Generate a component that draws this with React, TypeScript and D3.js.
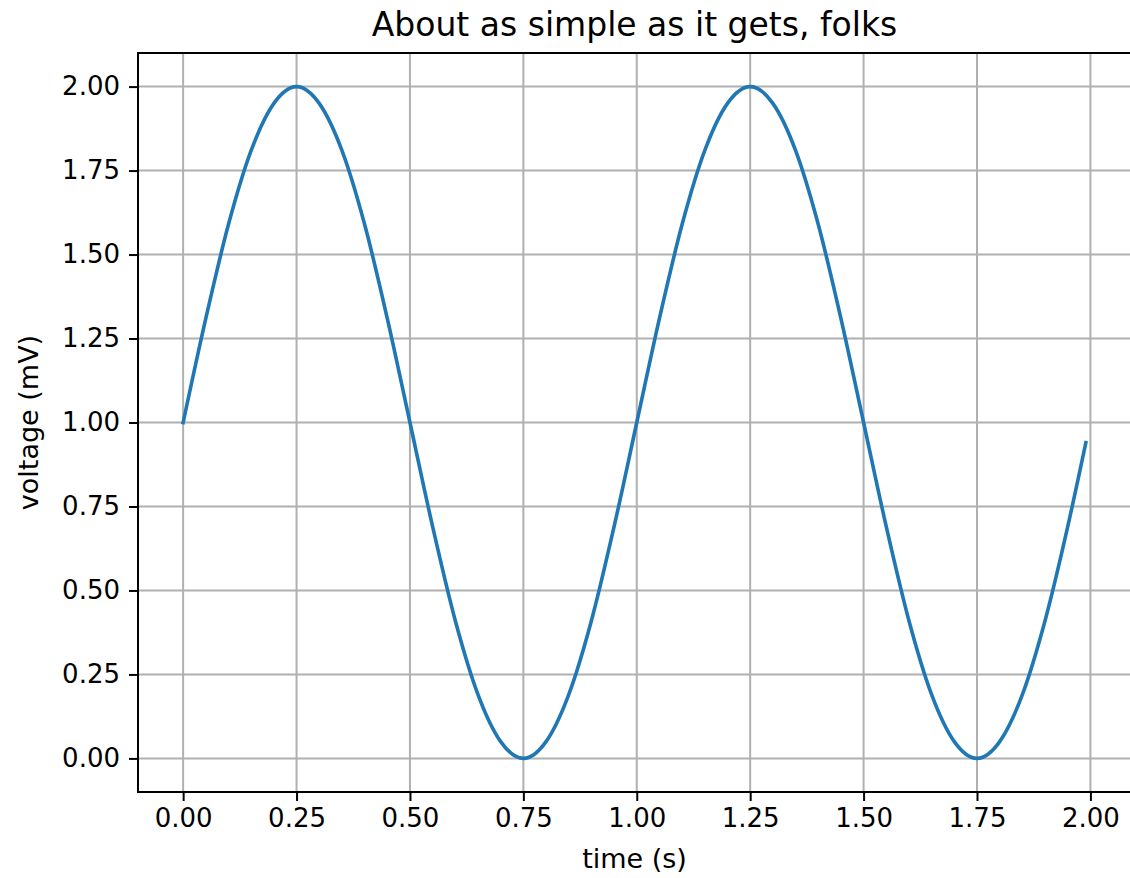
import { useEffect, useRef } from 'react';
import * as d3 from 'd3';

// values
const TIME = [0, 0.05, 0.1, 0.15, 0.2, 0.25, 0.3, 0.35, 0.4, 0.45, 0.5, 0.55, 0.6, 0.65, 0.7, 0.75, 0.8, 0.85, 0.9, 0.95,
  1.0, 1.05, 1.1, 1.15, 1.2, 1.25, 1.3, 1.35, 1.4, 1.45, 1.5, 1.55, 1.6, 1.65, 1.7, 1.75, 1.8, 1.85, 1.9, 1.95, 1.99];
const VOLTAGE = [1.0, 1.31, 1.59, 1.81, 1.95, 2.0, 1.95, 1.81, 1.59, 1.31, 1.0, 0.69, 0.41, 0.19, 0.05, 0.0, 0.05, 0.19, 0.41, 0.69,
  1.0, 1.31, 1.59, 1.81, 1.95, 2.0, 1.95, 1.81, 1.59, 1.31, 1.0, 0.69, 0.41, 0.19, 0.05, 0.0, 0.05, 0.19, 0.41, 0.69, 0.94];
const X_TICKS = [0, 0.25, 0.5, 0.75, 1.0, 1.25, 1.5, 1.75, 2.0];
const Y_TICKS = [0, 0.25, 0.5, 0.75, 1.0, 1.25, 1.5, 1.75, 2.0];

const W = 1130;
const H = 878;
const PLOT = { left: 138, right: 1131, top: 53, bottom: 792 };
const FONT = '"DejaVu Sans", sans-serif';

export default function App() {
  const svgRef = useRef<SVGSVGElement | null>(null);

  useEffect(() => {
    document.body.style.margin = '0';
    if (!svgRef.current) return;
    const svg = d3.select(svgRef.current);
    svg.selectAll('*').remove();

    const x = d3.scaleLinear().domain([-0.0995, 2.0895]).range([PLOT.left, PLOT.right]);
    const y = d3.scaleLinear().domain([-0.1, 2.1]).range([PLOT.bottom, PLOT.top]);

    svg.append('rect').attr('width', W).attr('height', H).attr('fill', '#fff');

    // grid
    const grid = svg.append('g').attr('stroke', '#b0b0b0').attr('stroke-width', 2);
    X_TICKS.forEach(t => {
      grid.append('line').attr('x1', x(t)).attr('x2', x(t)).attr('y1', PLOT.top).attr('y2', PLOT.bottom);
    });
    Y_TICKS.forEach(t => {
      grid.append('line').attr('x1', PLOT.left).attr('x2', PLOT.right).attr('y1', y(t)).attr('y2', y(t));
    });

    // the curve
    const pts = TIME.map((t, i) => [t, VOLTAGE[i]] as [number, number]);
    const line = d3.line<[number, number]>()
      .x(d => x(d[0])).y(d => y(d[1]))
      .curve(d3.curveMonotoneX);
    svg.append('path').attr('d', line(pts)).attr('fill', 'none')
      .attr('stroke', '#1f77b4').attr('stroke-width', 3.6).attr('stroke-linecap', 'square');

    // axes
    const xAxis = d3.axisBottom(x).tickValues(X_TICKS).tickFormat(d3.format('.2f')).tickSize(9).tickPadding(8);
    const yAxis = d3.axisLeft(y).tickValues(Y_TICKS).tickFormat(d3.format('.2f')).tickSize(9).tickPadding(9);
    const gx = svg.append('g').attr('transform', `translate(0,${PLOT.bottom})`).call(xAxis);
    const gy = svg.append('g').attr('transform', `translate(${PLOT.left},0)`).call(yAxis);
    [gx, gy].forEach(g => {
      g.select('.domain').remove();
      g.selectAll('.tick line').attr('stroke', '#000').attr('stroke-width', 2);
      g.selectAll('.tick text').attr('fill', '#000').style('font-family', FONT).style('font-size', '26px');
    });

    // spines
    svg.append('rect')
      .attr('x', PLOT.left).attr('y', PLOT.top)
      .attr('width', PLOT.right - PLOT.left).attr('height', PLOT.bottom - PLOT.top)
      .attr('fill', 'none').attr('stroke', '#000').attr('stroke-width', 2);

    svg.append('text').attr('x', (PLOT.left + PLOT.right) / 2).attr('y', 36)
      .attr('text-anchor', 'middle').style('font-family', FONT).style('font-size', '33px')
      .text('About as simple as it gets, folks');

    svg.append('text').attr('x', (PLOT.left + PLOT.right) / 2).attr('y', 868)
      .attr('text-anchor', 'middle').style('font-family', FONT).style('font-size', '27px')
      .text('time (s)');

    svg.append('text')
      .attr('transform', `translate(38,${(PLOT.top + PLOT.bottom) / 2}) rotate(-90)`)
      .attr('text-anchor', 'middle').style('font-family', FONT).style('font-size', '27px')
      .text('voltage (mV)');
  }, []);

  return <svg ref={svgRef} width={W} height={H} style={{ display: 'block' }} />;
}
